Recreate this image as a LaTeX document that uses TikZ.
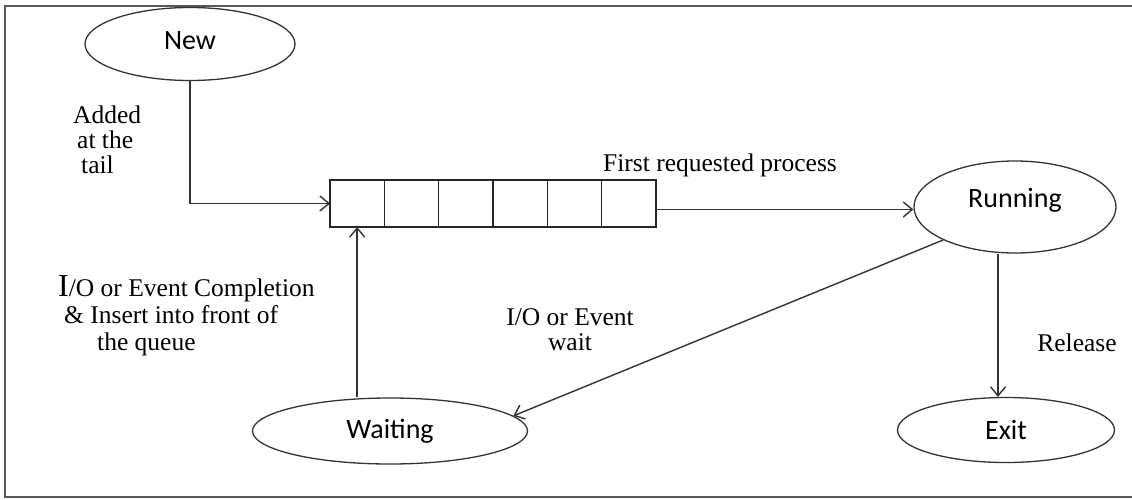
\documentclass[tikz,border=0pt]{standalone}
\usepackage{fontspec}
\setmainfont{Liberation Serif}
\newfontfamily\calibrifont{Carlito}
\usetikzlibrary{shapes.geometric,arrows.meta}
\tikzset{
  state/.style={draw=black!80, line width=1.3pt, ellipse, inner sep=0pt, font=\calibrifont\fontsize{28}{32}\selectfont},
  cell/.style={draw=black!85, line width=1.5pt, rectangle, inner sep=0pt, outer sep=0pt, minimum width=54.33pt, minimum height=47pt},
  lbl/.style={inner sep=0pt, font=\fontsize{25.5}{25}\selectfont},
  arr/.style={draw=black!80, line width=1.4pt, -{Straight Barb[length=9pt,width=15pt,line width=1.4pt]}},
  frame/.style={draw=black!65, line width=2.5pt}
}
\begin{document}
\begin{tikzpicture}[x=1pt,y=-1pt]
\useasboundingbox (0,0) rectangle (1132,500);
\draw[frame] (1132,6) -- (5,6) -- (5,497) -- (1132,497);
% states
\node (new) at (190,44) [state, minimum width=210pt, minimum height=73pt, text depth=6pt] {New};
\node (running) at (1015,207) [state, minimum width=202pt, minimum height=92pt, text depth=19pt] {Running};
\node (exitst) at (1006,430) [state, minimum width=217pt, minimum height=65pt] {Exit};
\node (waiting) at (390,431) [state, minimum width=275pt, minimum height=66pt] {Waiting};
% ready queue
\foreach \i in {1,...,6}
  \node (q\i) at ({330+54.33*(\i-0.5)},203.5) [cell] {};
% labels
\node (tail) at (73,140) [lbl, anchor=west, align=left] {Added\\\hspace*{4pt}at the\\\hspace*{8pt}tail};
\node (first) at (720,165) [lbl] {First requested process};
\node (compl) at (58,316) [lbl, anchor=west, align=left, font=\fontsize{25.5}{27}\selectfont] {{\fontsize{32}{27}\selectfont I}/O or Event Completion\\\hspace*{6pt}\& Insert into front of\\\hspace*{39pt}the queue};
\node (iowait) at (570,330) [lbl, align=center] {I/O or Event\\wait};
\node (release) at (1077,343) [lbl] {Release};
% transitions
\draw[arr] (new.south) -- (new.south |- q1.west) -- (q1.west);
\draw[arr] ([yshift=-6pt]q6.east) -- ([yshift=-6pt]q6.east -| running.west);
\draw[arr] ([xshift=-17pt]running.south) -- ([xshift=-17pt]running.south |- exitst.north);
\draw[arr] (running.south west) -- (waiting.7);
\draw[arr] (q1.south |- waiting.north) -- (q1.south);
\end{tikzpicture}
\end{document}
